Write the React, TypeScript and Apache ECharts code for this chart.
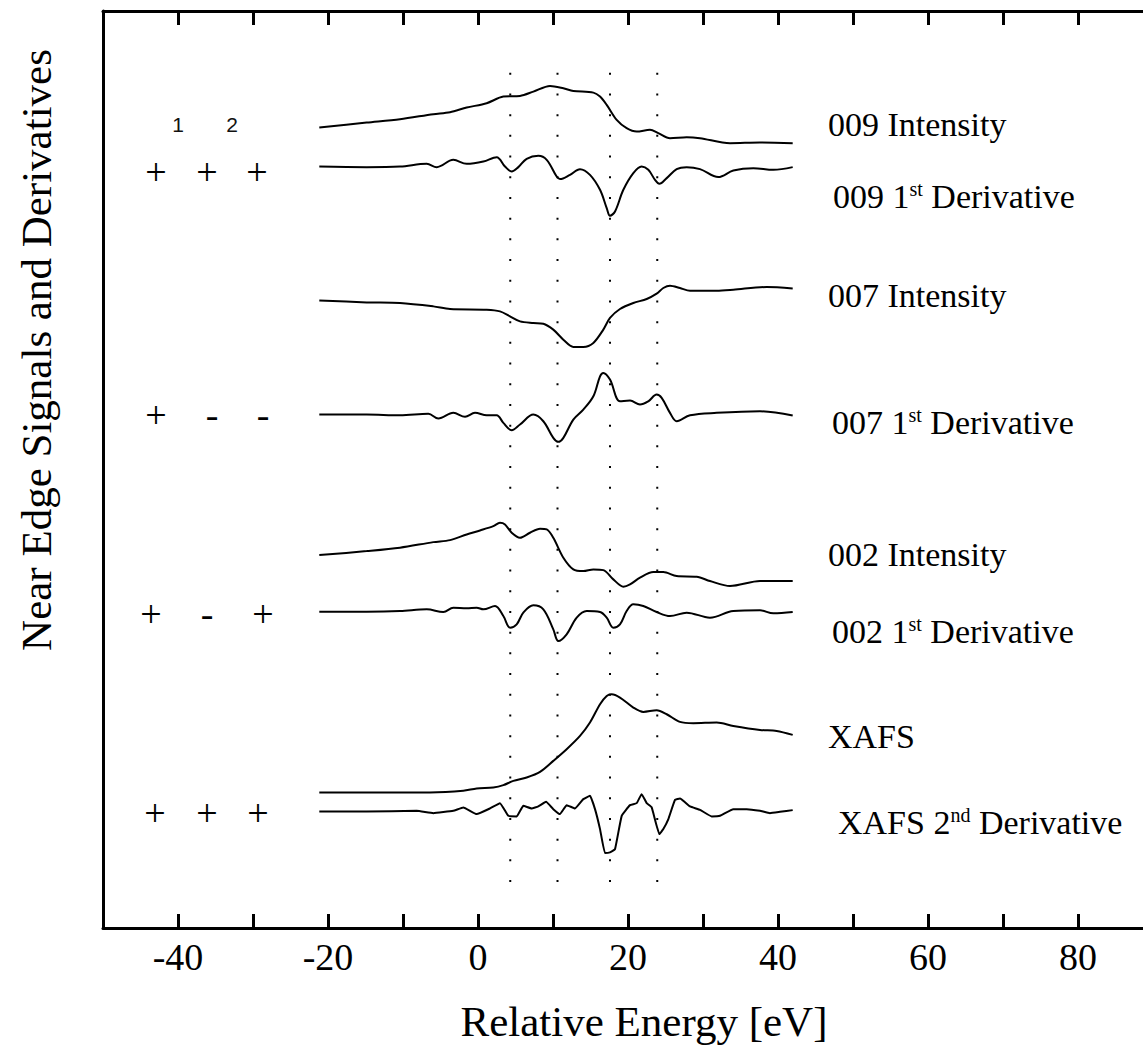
import React, { useEffect, useRef } from "react";
import * as echarts from "echarts";

// ---- data (energy [eV], arbitrary stacked signal units) ----
const X_MIN = -50;
const X_MAX = 90;
const Y_MIN = 0;
const Y_MAX = 91.8;

const xTickLabels = [-40, -20, 0, 20, 40, 60, 80];
const dottedEnergies = [4.3, 10.6, 17.6, 23.9];
const dottedRange = [4.6, 86.3];

const int009 = [
  [-21.16, 80.13], [-14.84, 80.63], [-10.4, 80.97], [-5.96, 81.47], [-3.73, 81.67],
  [-1.51, 82.13], [1.16, 82.57], [3.38, 83.23], [5.6, 83.3], [7.38, 83.73],
  [9.6, 84.3], [11.38, 84.07], [12.71, 83.8], [15.38, 83.63], [16.27, 83.23],
  [17.16, 82.4], [18.49, 80.9], [19.82, 80.07], [21.16, 79.73], [22.93, 79.9],
  [24.04, 79.57], [25.6, 79.07], [27.82, 79.17], [29.6, 79.07], [33.6, 78.57],
  [37.6, 78.63], [41.96, 78.57],
];
const der009 = [
  [-21.16, 76.23], [-14.84, 76.17], [-10.4, 76.23], [-6.84, 76.5], [-5.51, 76.17],
  [-3.29, 76.9], [-1.51, 76.5], [0.71, 76.73], [2.49, 77.17], [3.6, 76.23],
  [4.49, 75.73], [5.38, 76.17], [6.49, 77.0], [8.04, 77.3], [9.16, 76.9],
  [10.49, 75.23], [10.93, 74.97], [12.27, 75.4], [13.6, 75.97], [14.93, 75.4],
  [16.27, 73.9], [17.16, 72.07], [17.6, 71.3], [18.27, 71.73], [19.38, 73.9],
  [20.71, 75.57], [21.82, 76.23], [22.71, 75.9], [23.6, 74.9], [24.18, 74.5],
  [25.16, 75.07], [26.49, 75.97], [27.82, 76.17], [29.6, 75.97], [32.04, 75.17],
  [34.04, 75.83], [36.71, 76.07], [39.38, 75.9], [41.96, 76.17],
];
const int007 = [
  [-21.16, 62.83], [-14.84, 62.63], [-10.4, 62.57], [-5.96, 62.23], [-3.73, 61.97],
  [1.16, 61.9], [2.93, 61.73], [4.27, 61.23], [5.6, 60.73], [7.38, 60.57],
  [8.71, 60.5], [10.04, 59.9], [11.38, 58.9], [12.71, 58.17], [14.04, 58.17],
  [15.38, 58.57], [16.71, 59.9], [17.6, 61.07], [18.93, 61.97], [20.71, 62.57],
  [22.49, 62.97], [23.82, 63.5], [24.71, 64.07], [25.6, 64.3], [26.93, 64.07],
  [28.27, 63.8], [31.82, 63.8], [34.04, 63.9], [38.49, 64.17], [41.96, 64.03],
];
const der007 = [
  [-21.16, 51.4], [-14.84, 51.4], [-10.4, 51.33], [-6.62, 51.47], [-5.29, 51.0],
  [-3.29, 51.57], [-1.73, 51.17], [-0.4, 51.57], [1.16, 51.33], [2.49, 51.33],
  [3.38, 50.57], [4.49, 49.83], [5.6, 50.4], [7.38, 51.4], [8.71, 50.73],
  [10.04, 49.07], [10.71, 48.67], [11.38, 49.07], [12.71, 50.9], [14.04, 51.9],
  [15.38, 53.23], [16.27, 55.23], [16.71, 55.57], [17.6, 54.9], [18.93, 52.73],
  [20.27, 52.8], [21.6, 52.4], [22.71, 52.73], [23.82, 53.4], [24.49, 53.07],
  [25.6, 51.57], [26.49, 50.73], [28.27, 51.33], [31.82, 51.57], [37.6, 51.73],
  [41.96, 51.3],
];
const int002 = [
  [-21.16, 37.33], [-14.84, 37.73], [-10.4, 38.07], [-5.96, 38.63], [-3.73, 38.83],
  [-1.51, 39.4], [0.27, 39.8], [2.04, 40.23], [2.93, 40.57], [3.6, 40.4],
  [4.49, 39.57], [5.6, 39.07], [6.93, 39.57], [8.27, 39.97], [9.16, 39.9],
  [10.04, 39.07], [11.38, 37.07], [12.71, 35.9], [14.04, 35.73], [15.38, 35.9],
  [16.71, 35.83], [18.04, 34.9], [19.38, 34.17], [20.27, 34.4], [21.6, 35.07],
  [23.38, 35.63], [24.71, 35.63], [26.49, 35.23], [29.16, 35.17], [30.93, 34.73],
  [33.6, 34.23], [37.6, 34.73], [41.96, 34.73],
];
const der002 = [
  [-21.16, 31.67], [-14.84, 31.67], [-10.4, 31.73], [-6.84, 31.9], [-4.62, 31.63],
  [-3.29, 32.07], [-1.51, 32.0], [-0.18, 32.07], [0.71, 31.9], [2.27, 32.23],
  [3.38, 31.23], [4.27, 30.07], [5.16, 30.4], [6.04, 31.57], [7.38, 32.3],
  [8.71, 31.9], [10.04, 29.9], [10.71, 28.73], [11.82, 29.4], [13.16, 31.07],
  [14.49, 31.73], [16.27, 31.63], [17.16, 31.07], [18.04, 30.07], [18.93, 30.4],
  [19.82, 31.73], [20.71, 32.4], [22.04, 32.23], [23.82, 31.63], [25.6, 31.23],
  [27.82, 31.57], [30.93, 31.07], [34.04, 31.73], [37.6, 31.8], [39.38, 31.5],
  [41.96, 31.63],
];
const xafs = [
  [-21.16, 13.57], [-14.84, 13.57], [-6.4, 13.57], [-1.96, 13.73], [-0.18, 13.97],
  [2.04, 14.07], [3.38, 14.3], [4.71, 14.73], [6.49, 15.07], [8.27, 15.63],
  [10.04, 16.73], [11.82, 17.9], [13.6, 19.23], [14.93, 20.57], [16.27, 22.4],
  [17.16, 23.23], [17.82, 23.4], [18.93, 23.07], [20.71, 22.07], [22.04, 21.63],
  [23.82, 21.8], [25.16, 21.4], [26.93, 20.63], [28.71, 20.5], [31.82, 20.57],
  [34.04, 20.23], [37.6, 19.83], [39.82, 19.73], [41.96, 19.33],
];
const xafs2nd = [
  [-21.16, 11.67], [-14.84, 11.67], [-8.18, 11.73], [-5.96, 11.5], [-3.29, 11.73],
  [-1.96, 12.07], [-0.18, 11.4], [1.6, 11.97], [2.93, 12.5], [4.04, 11.23],
  [5.16, 11.17], [6.04, 12.23], [7.16, 11.97], [8.04, 12.17], [9.07, 12.63],
  [10.04, 11.9], [10.93, 11.4], [11.82, 12.3], [12.93, 11.97], [14.04, 12.9],
  [14.93, 13.23], [15.6, 11.9], [16.27, 9.9], [16.93, 7.5], [17.6, 7.57],
  [18.27, 7.9], [19.16, 11.23], [20.27, 12.3], [21.16, 12.5], [21.82, 13.4],
  [22.49, 12.5], [23.16, 12.07], [24.18, 9.4], [24.71, 9.9], [25.38, 10.9],
  [26.27, 12.83], [26.93, 12.97], [28.27, 12.17], [29.6, 11.83], [31.16, 11.17],
  [32.27, 11.23], [34.04, 11.9], [35.82, 11.9], [37.6, 11.73], [38.93, 11.5],
  [40.27, 11.63], [41.96, 11.8],
];

const curveNames = [
  "009 Intensity", "009 1st Derivative", "007 Intensity", "007 1st Derivative",
  "002 Intensity", "002 1st Derivative", "XAFS", "XAFS 2nd Derivative",
];
const curveData = [int009, der009, int007, der007, int002, der002, xafs, xafs2nd];
const curveSmooth = [0.3, 0.35, 0.3, 0.35, 0.3, 0.35, 0.3, 0.1];

// right-hand labels: [main text before sup, sup, after sup]
const labelTexts = [
  ["009 Intensity", "", ""],
  ["009 1", "st", " Derivative"],
  ["007 Intensity", "", ""],
  ["007 1", "st", " Derivative"],
  ["002 Intensity", "", ""],
  ["002 1", "st", " Derivative"],
  ["XAFS", "", ""],
  ["XAFS 2", "nd", " Derivative"],
];
const signRows = [
  ["+", "+", "+"],
  ["+", "-", "-"],
  ["+", "-", "+"],
  ["+", "+", "+"],
];
const columnNumbers = ["1", "2"];

const SERIF = "'Liberation Serif', 'Times New Roman', serif";
const SANS = "'Liberation Sans', Arial, sans-serif";

export default function App() {
  const ref = useRef<HTMLDivElement>(null);

  useEffect(() => {
    if (!ref.current) return;
    const chart = echarts.init(ref.current, undefined, { renderer: "svg" });

    const labelPos = [
      [828, 124], [833, 196], [828, 295], [832, 422],
      [828, 554], [832, 631], [828, 736], [838, 822],
    ];
    const signX = [
      [156, 207, 257],
      [156, 212, 263],
      [151, 207, 263],
      [155, 207, 258],
    ];
    const signY = [172, 415, 614, 813];

    const graphics: any[] = [];
    labelTexts.forEach((t, i) => {
      const txt = t[1] ? `${t[0]}{sup|${t[1]}}${t[2]}` : t[0];
      graphics.push({
        type: "text",
        x: labelPos[i][0],
        y: labelPos[i][1],
        silent: true,
        style: {
          text: txt,
          fontSize: 34,
          fontFamily: SERIF,
          fill: "#000",
          align: "left",
          verticalAlign: "middle",
          rich: {
            sup: { fontSize: 20, fontFamily: SERIF, fill: "#000", verticalAlign: "top" },
          },
        },
      });
    });
    signRows.forEach((row, r) => {
      row.forEach((s, c) => {
        graphics.push({
          type: "text",
          x: signX[r][c],
          y: signY[r],
          silent: true,
          style: {
            text: s,
            fontSize: 38,
            fontFamily: SERIF,
            fill: "#000",
            align: "center",
            verticalAlign: "middle",
          },
        });
      });
    });
    const numX = [178, 232];
    columnNumbers.forEach((n, i) => {
      graphics.push({
        type: "text",
        x: numX[i],
        y: 124,
        silent: true,
        style: {
          text: n,
          fontSize: 21,
          fontFamily: SANS,
          fill: "#111",
          align: "center",
          verticalAlign: "middle",
        },
      });
    });
    graphics.push({
      type: "text",
      x: 36,
      y: 350,
      rotation: Math.PI / 2,
      silent: true,
      style: {
        text: "Near Edge Signals and Derivatives",
        fontSize: 43,
        fontFamily: SERIF,
        fill: "#000",
        align: "center",
        verticalAlign: "middle",
      },
    });

    const series: any[] = curveData.map((d, i) => ({
      name: curveNames[i],
      type: "line",
      data: d,
      symbol: "none",
      smooth: curveSmooth[i],
      lineStyle: { color: "#000", width: 2 },
      silent: true,
    }));
    dottedEnergies.forEach((e) => {
      series.push({
        type: "line",
        data: [[e, dottedRange[0]], [e, dottedRange[1]]],
        symbol: "none",
        silent: true,
        lineStyle: { color: "#000", width: 2, type: [2, 18.7], cap: "butt" },
      });
    });

    chart.setOption({
      animation: false,
      backgroundColor: "#fff",
      grid: { left: 103, right: 17, top: 11, bottom: 119 },
      xAxis: [
        {
          type: "value",
          min: X_MIN,
          max: X_MAX,
          interval: 10,
          position: "bottom",
          axisLine: { show: true, lineStyle: { color: "#000", width: 3 } },
          axisTick: { show: true, inside: true, length: 14, lineStyle: { color: "#000", width: 3 } },
          splitLine: { show: false },
          axisLabel: {
            margin: 10,
            fontSize: 38,
            fontFamily: SERIF,
            color: "#000",
            formatter: (v: number) => (xTickLabels.includes(v) ? String(v) : ""),
          },
          name: "Relative Energy [eV]",
          nameLocation: "middle",
          nameGap: 72,
          nameTextStyle: { fontSize: 43, fontFamily: SERIF, color: "#000", padding: [0, 0, 0, 32] },
        },
        {
          type: "value",
          min: X_MIN,
          max: X_MAX,
          interval: 10,
          position: "top",
          axisLine: { show: true, onZero: false, lineStyle: { color: "#000", width: 3 } },
          axisTick: { show: true, inside: true, length: 14, lineStyle: { color: "#000", width: 3 } },
          splitLine: { show: false },
          axisLabel: { show: false },
        },
      ],
      yAxis: [
        {
          type: "value",
          min: Y_MIN,
          max: Y_MAX,
          position: "left",
          axisLine: { show: true, onZero: false, lineStyle: { color: "#000", width: 3 } },
          axisTick: { show: false },
          axisLabel: { show: false },
          splitLine: { show: false },
        },
      ],
      series,
    });
    chart.setOption({ graphic: graphics });

    return () => chart.dispose();
  }, []);

  return (
    <div
      style={{
        position: "fixed",
        left: 0,
        top: 0,
        width: 1143,
        height: 1048,
        overflow: "hidden",
        background: "#fff",
      }}
    >
      <div ref={ref} style={{ width: 1170, height: 1048 }} />
    </div>
  );
}
